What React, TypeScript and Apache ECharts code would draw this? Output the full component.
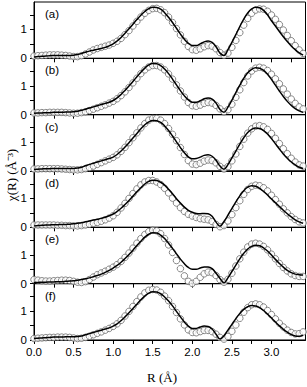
import React, { useEffect, useRef } from "react";
import * as echarts from "echarts";

// R grid (Å), sampled every 0.05 Å from 0.00 to 3.40
const R_VALUES: number[] = Array.from({ length: 69 }, (_, i) => +(i * 0.05).toFixed(2));

const PANEL_LABELS = ["(a)", "(b)", "(c)", "(d)", "(e)", "(f)"];

const X_TICKS = [0, 0.25, 0.5, 0.75, 1, 1.25, 1.5, 1.75, 2, 2.25, 2.5, 2.75, 3, 3.25];
const X_LABELS = [0, 0.5, 1, 1.5, 2, 2.5, 3];
const Y_TICKS = [0, 0.5, 1, 1.5];
const Y_LABELS = [0, 1];

// fit (solid line) and experiment (open circles) per panel
const fitA = [
  0.05, 0.06, 0.07, 0.08, 0.09, 0.10, 0.10, 0.10, 0.10, 0.10,
  0.11, 0.13, 0.17, 0.21, 0.25, 0.28, 0.31, 0.34, 0.38, 0.43,
  0.50, 0.60, 0.72, 0.87, 1.02, 1.18, 1.34, 1.49, 1.62, 1.72,
  1.77, 1.76, 1.70, 1.58, 1.42, 1.24, 1.04, 0.84, 0.66, 0.52,
  0.44, 0.44, 0.50, 0.57, 0.60, 0.55, 0.40, 0.18, 0.10, 0.30,
  0.55, 0.82, 1.10, 1.36, 1.57, 1.71, 1.77, 1.75, 1.66, 1.51,
  1.30, 1.12, 0.93, 0.75, 0.58, 0.43, 0.30, 0.19, 0.11,
];
const dataA = [
  0.08, 0.09, 0.10, 0.11, 0.12, 0.12, 0.12, 0.11, 0.10, 0.08,
  0.06, 0.06, 0.09, 0.15, 0.22, 0.29, 0.34, 0.38, 0.42, 0.46,
  0.52, 0.59, 0.69, 0.82, 0.96, 1.12, 1.28, 1.43, 1.56, 1.66,
  1.72, 1.73, 1.68, 1.58, 1.43, 1.24, 1.03, 0.81, 0.59, 0.41,
  0.30, 0.28, 0.33, 0.40, 0.44, 0.42, 0.33, 0.20, 0.11, 0.18,
  0.38, 0.62, 0.89, 1.15, 1.38, 1.56, 1.67, 1.71, 1.70, 1.63,
  1.50, 1.35, 1.17, 0.98, 0.79, 0.61, 0.44, 0.29, 0.17,
];
const fitB = [
  0.05, 0.06, 0.06, 0.07, 0.07, 0.08, 0.08, 0.08, 0.09, 0.09,
  0.10, 0.12, 0.15, 0.19, 0.23, 0.27, 0.31, 0.35, 0.39, 0.43,
  0.49, 0.58, 0.70, 0.84, 0.99, 1.15, 1.31, 1.47, 1.61, 1.72,
  1.77, 1.76, 1.70, 1.58, 1.42, 1.23, 1.03, 0.83, 0.65, 0.51,
  0.43, 0.43, 0.48, 0.55, 0.58, 0.54, 0.40, 0.18, 0.08, 0.26,
  0.50, 0.76, 1.02, 1.26, 1.45, 1.57, 1.62, 1.61, 1.53, 1.40,
  1.22, 1.02, 0.82, 0.63, 0.46, 0.32, 0.21, 0.13, 0.08,
];
const dataB = [
  0.06, 0.06, 0.07, 0.07, 0.08, 0.08, 0.08, 0.08, 0.07, 0.06,
  0.05, 0.05, 0.07, 0.10, 0.14, 0.19, 0.24, 0.29, 0.34, 0.40,
  0.46, 0.55, 0.66, 0.79, 0.94, 1.10, 1.26, 1.42, 1.55, 1.65,
  1.70, 1.70, 1.65, 1.55, 1.41, 1.23, 1.03, 0.82, 0.61, 0.42,
  0.31, 0.29, 0.33, 0.39, 0.42, 0.40, 0.32, 0.20, 0.10, 0.17,
  0.36, 0.60, 0.86, 1.11, 1.34, 1.51, 1.61, 1.64, 1.61, 1.53,
  1.40, 1.24, 1.07, 0.89, 0.71, 0.54, 0.39, 0.27, 0.20,
];
const fitC = [
  0.05, 0.06, 0.07, 0.08, 0.08, 0.09, 0.09, 0.09, 0.09, 0.09,
  0.09, 0.10, 0.13, 0.18, 0.23, 0.27, 0.31, 0.35, 0.39, 0.43,
  0.48, 0.57, 0.69, 0.83, 0.98, 1.14, 1.30, 1.46, 1.60, 1.70,
  1.75, 1.74, 1.68, 1.56, 1.40, 1.21, 1.01, 0.81, 0.63, 0.49,
  0.42, 0.43, 0.48, 0.54, 0.56, 0.51, 0.37, 0.17, 0.06, 0.22,
  0.45, 0.69, 0.93, 1.15, 1.33, 1.44, 1.49, 1.47, 1.40, 1.28,
  1.12, 0.94, 0.76, 0.59, 0.44, 0.31, 0.21, 0.13, 0.09,
];
const dataC = [
  0.07, 0.07, 0.08, 0.08, 0.08, 0.08, 0.08, 0.07, 0.06, 0.05,
  0.04, 0.04, 0.05, 0.08, 0.12, 0.17, 0.23, 0.29, 0.35, 0.41,
  0.47, 0.56, 0.68, 0.82, 0.98, 1.15, 1.32, 1.49, 1.64, 1.76,
  1.82, 1.82, 1.76, 1.64, 1.47, 1.27, 1.05, 0.81, 0.57, 0.36,
  0.24, 0.22, 0.27, 0.34, 0.38, 0.36, 0.28, 0.16, 0.07, 0.15,
  0.35, 0.59, 0.85, 1.10, 1.31, 1.46, 1.55, 1.57, 1.53, 1.44,
  1.30, 1.13, 0.95, 0.77, 0.60, 0.44, 0.31, 0.21, 0.17,
];
const fitD = [
  0.05, 0.06, 0.07, 0.08, 0.08, 0.09, 0.09, 0.10, 0.10, 0.11,
  0.12, 0.14, 0.16, 0.19, 0.22, 0.25, 0.28, 0.31, 0.35, 0.40,
  0.46, 0.55, 0.66, 0.79, 0.93, 1.08, 1.23, 1.37, 1.50, 1.59,
  1.63, 1.62, 1.56, 1.46, 1.32, 1.16, 0.99, 0.84, 0.70, 0.59,
  0.52, 0.48, 0.47, 0.48, 0.47, 0.38, 0.18, 0.04, 0.20, 0.42,
  0.65, 0.88, 1.09, 1.27, 1.39, 1.44, 1.42, 1.35, 1.24, 1.12,
  0.98, 0.85, 0.72, 0.59, 0.47, 0.36, 0.26, 0.19, 0.14,
];
const dataD = [
  0.08, 0.08, 0.08, 0.08, 0.08, 0.08, 0.07, 0.07, 0.06, 0.06,
  0.05, 0.05, 0.06, 0.08, 0.11, 0.14, 0.17, 0.21, 0.26, 0.32,
  0.40, 0.52, 0.67, 0.83, 1.00, 1.17, 1.33, 1.47, 1.57, 1.62,
  1.62, 1.57, 1.48, 1.35, 1.19, 1.01, 0.84, 0.68, 0.55, 0.45,
  0.39, 0.34, 0.30, 0.28, 0.26, 0.20, 0.10, 0.02, 0.06, 0.22,
  0.44, 0.68, 0.92, 1.14, 1.31, 1.42, 1.46, 1.44, 1.37, 1.26,
  1.11, 0.96, 0.80, 0.64, 0.50, 0.37, 0.27, 0.19, 0.15,
];
const fitE = [
  0.04, 0.04, 0.05, 0.05, 0.06, 0.06, 0.07, 0.07, 0.08, 0.09,
  0.10, 0.12, 0.14, 0.17, 0.20, 0.24, 0.28, 0.33, 0.39, 0.46,
  0.54, 0.63, 0.74, 0.87, 1.01, 1.16, 1.32, 1.47, 1.61, 1.71,
  1.76, 1.75, 1.68, 1.56, 1.40, 1.22, 1.03, 0.85, 0.69, 0.56,
  0.50, 0.50, 0.54, 0.58, 0.58, 0.52, 0.36, 0.18, 0.03, 0.20,
  0.42, 0.64, 0.86, 1.05, 1.20, 1.29, 1.33, 1.31, 1.24, 1.13,
  0.99, 0.84, 0.70, 0.57, 0.46, 0.38, 0.33, 0.31, 0.30,
];
const dataE = [
  0.14, 0.12, 0.10, 0.09, 0.09, 0.10, 0.11, 0.12, 0.12, 0.11,
  0.08, 0.05, 0.04, 0.07, 0.14, 0.23, 0.31, 0.37, 0.43, 0.50,
  0.57, 0.66, 0.77, 0.91, 1.06, 1.23, 1.40, 1.56, 1.70, 1.80,
  1.85, 1.83, 1.73, 1.56, 1.34, 1.08, 0.80, 0.52, 0.27, 0.08,
  0.01, 0.08, 0.22, 0.34, 0.40, 0.38, 0.28, 0.14, 0.05, 0.15,
  0.36, 0.61, 0.86, 1.09, 1.27, 1.37, 1.40, 1.37, 1.29, 1.17,
  1.02, 0.86, 0.70, 0.56, 0.44, 0.34, 0.28, 0.25, 0.25,
];
const fitF = [
  0.05, 0.06, 0.07, 0.08, 0.09, 0.10, 0.10, 0.10, 0.11, 0.11,
  0.11, 0.12, 0.14, 0.18, 0.22, 0.26, 0.30, 0.34, 0.38, 0.42,
  0.48, 0.56, 0.67, 0.80, 0.94, 1.09, 1.24, 1.39, 1.52, 1.62,
  1.67, 1.66, 1.60, 1.49, 1.35, 1.18, 0.99, 0.80, 0.62, 0.48,
  0.40, 0.40, 0.45, 0.48, 0.47, 0.38, 0.20, 0.03, 0.15, 0.34,
  0.54, 0.74, 0.92, 1.06, 1.15, 1.19, 1.18, 1.12, 1.02, 0.89,
  0.76, 0.62, 0.49, 0.37, 0.27, 0.19, 0.14, 0.13, 0.16,
];
const dataF = [
  0.05, 0.06, 0.07, 0.08, 0.09, 0.09, 0.10, 0.10, 0.10, 0.09,
  0.07, 0.05, 0.06, 0.09, 0.13, 0.18, 0.23, 0.28, 0.34, 0.40,
  0.47, 0.56, 0.68, 0.83, 0.99, 1.16, 1.33, 1.49, 1.63, 1.72,
  1.75, 1.73, 1.65, 1.52, 1.36, 1.16, 0.95, 0.73, 0.52, 0.35,
  0.26, 0.25, 0.29, 0.33, 0.33, 0.29, 0.20, 0.09, 0.03, 0.12,
  0.30, 0.52, 0.75, 0.96, 1.12, 1.22, 1.25, 1.22, 1.14, 1.02,
  0.88, 0.73, 0.58, 0.45, 0.34, 0.26, 0.21, 0.22, 0.28,
];

const FITS = [fitA, fitB, fitC, fitD, fitE, fitF];
const DATAS = [dataA, dataB, dataC, dataD, dataE, dataF];

export default function App() {
  const ref = useRef<HTMLDivElement>(null);
  useEffect(() => {
    if (!ref.current) return;
    const chart = echarts.init(ref.current, null, { renderer: "svg" });
    const left = 34;
    const right = 1.5;
    const top0 = 2;
    const h = 56.33;
    const grids: any[] = [];
    const xAxes: any[] = [];
    const yAxes: any[] = [];
    const series: any[] = [];
    const graphics: any[] = [];
    const sans = "'Liberation Sans', Arial, sans-serif";
    for (let i = 0; i < 6; i++) {
      const top = top0 + i * h;
      grids.push({
        left,
        right,
        top,
        height: h,
        show: true,
        borderColor: "#000",
        borderWidth: 1,
        backgroundColor: "transparent",
      });
      xAxes.push({
        gridIndex: i,
        type: "value",
        min: 0,
        max: 3.43,
        interval: 0.5,
        axisLine: { onZero: false, lineStyle: { color: "#000", width: 1 } },
        axisTick: { inside: false, length: 4, customValues: X_TICKS, lineStyle: { color: "#000" } },
        axisLabel: {
          show: i === 5,
          customValues: X_LABELS,
          formatter: (v: number) => v.toFixed(1),
          color: "#000",
          fontSize: 11.5,
          fontFamily: sans,
          margin: 6,
        },
        splitLine: { show: false },
      });
      yAxes.push({
        gridIndex: i,
        type: "value",
        min: 0,
        max: 1.95,
        interval: 0.5,
        axisLine: { show: true, onZero: false, lineStyle: { color: "#000", width: 1 } },
        axisTick: { inside: false, length: 4, customValues: Y_TICKS, lineStyle: { color: "#000" } },
        axisLabel: {
          customValues: Y_LABELS,
          formatter: (v: number) => String(v),
          color: "#000",
          fontSize: 11.5,
          fontFamily: sans,
          margin: 7,
        },
        splitLine: { show: false },
      });
      series.push({
        type: "scatter",
        xAxisIndex: i,
        yAxisIndex: i,
        symbol: "circle",
        symbolSize: 6.5,
        itemStyle: { color: "#fff", borderColor: "#6a6a6a", borderWidth: 1 },
        data: R_VALUES.map((r, k) => [r, DATAS[i][k]]),
        z: 2,
      });
      series.push({
        type: "line",
        xAxisIndex: i,
        yAxisIndex: i,
        smooth: 0.4,
        showSymbol: false,
        lineStyle: { color: "#000", width: 1.5 },
        data: R_VALUES.map((r, k) => [r, FITS[i][k]]),
        z: 3,
      });
      graphics.push({
        type: "text",
        left: 45,
        top: top + 6,
        style: { text: PANEL_LABELS[i], font: `11.5px ${sans}`, fill: "#000" },
      });
    }
    graphics.push({
      type: "text",
      x: 11,
      y: 175,
      rotation: Math.PI / 2,
      style: {
        text: "χ(R) (Å⁻³)",
        font: "13px 'Liberation Serif', 'Times New Roman', serif",
        fill: "#000",
        align: "center",
        verticalAlign: "middle",
      },
    });
    graphics.push({
      type: "text",
      x: 162,
      y: 377,
      style: {
        text: "R (Å)",
        font: "13px 'Liberation Serif', 'Times New Roman', serif",
        fill: "#000",
        align: "center",
        verticalAlign: "middle",
      },
    });
    chart.setOption({
      animation: false,
      backgroundColor: "#fff",
      grid: grids,
      xAxis: xAxes,
      yAxis: yAxes,
      series,
      graphic: graphics,
    });
    return () => chart.dispose();
  }, []);
  return (
    <div
      ref={ref}
      style={{ position: "fixed", left: 0, top: 0, width: 307, height: 387 }}
    />
  );
}
